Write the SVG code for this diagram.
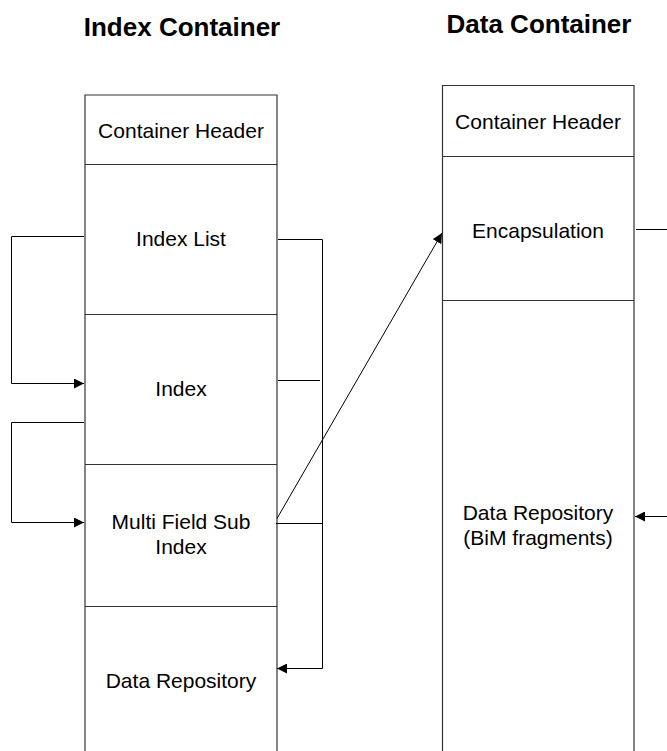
<svg xmlns="http://www.w3.org/2000/svg" width="667" height="751" viewBox="0 0 667 751">
<style>
.title{font-family:"Liberation Sans",Arial,sans-serif;font-size:26px;font-weight:bold;fill:#000;text-anchor:middle}
.lbl{font-family:"Liberation Sans",Arial,sans-serif;font-size:21px;fill:#000;text-anchor:middle}
.box{fill:none;stroke:#333;stroke-width:1.2}
.con{fill:none;stroke:#000;stroke-width:1}
</style>
<defs>
<marker id="ah" markerUnits="userSpaceOnUse" markerWidth="11" markerHeight="10" refX="10" refY="5" orient="auto">
<path d="M0,0 L10,5 L0,10 Z" fill="#000"/>
</marker>
</defs>
<rect width="667" height="751" fill="#fff"/>
<text class="title" x="182" y="36">Index Container</text>
<text class="title" x="539" y="33">Data Container</text>

<g id="index-container">
<g id="ic-header">
<path class="box" d="M85,760 V95 H277 V760 M85,164.5 H277"/>
<text class="lbl" x="181" y="137.5">Container Header</text>
</g>
<g id="ic-index-list">
<path class="box" d="M85,314.5 H277"/>
<text class="lbl" x="181" y="246">Index List</text>
</g>
<g id="ic-index">
<path class="box" d="M85,464.5 H277"/>
<text class="lbl" x="181" y="396">Index</text>
</g>
<g id="ic-multi-field">
<path class="box" d="M85,606.5 H277"/>
<text class="lbl" x="181" y="528.5">Multi Field Sub</text>
<text class="lbl" x="181" y="553.5">Index</text>
</g>
<g id="ic-data-repository">
<text class="lbl" x="181" y="687.5">Data Repository</text>
</g>
</g>

<g id="data-container">
<g id="dc-header">
<path class="box" d="M442.5,760 V85.5 H634 V760 M442.5,156.5 H634"/>
<text class="lbl" x="538" y="128.5">Container Header</text>
</g>
<g id="dc-encapsulation">
<path class="box" d="M442.5,300.5 H634"/>
<text class="lbl" x="538" y="237.5">Encapsulation</text>
</g>
<g id="dc-data-repository">
<text class="lbl" x="538" y="520">Data Repository</text>
<text class="lbl" x="538" y="545">(BiM fragments)</text>
</g>
</g>

<g id="connectors">
<path class="con" d="M84,236.5 H11.5 V383.5 H84" marker-end="url(#ah)"/>
<path class="con" d="M84,422.5 H11.5 V522.5 H84" marker-end="url(#ah)"/>
<path class="con" d="M278,239.5 H322.5 V668.5 H277" marker-end="url(#ah)"/>
<path class="con" d="M278,380.5 H320"/>
<path class="con" d="M276,523.5 H322.5"/>
<path class="con" d="M277,518.5 L442,233" marker-end="url(#ah)"/>
<path class="con" d="M636,229.5 H667"/>
<path class="con" d="M667,516.5 H635" marker-end="url(#ah)"/>
</g>
</svg>
